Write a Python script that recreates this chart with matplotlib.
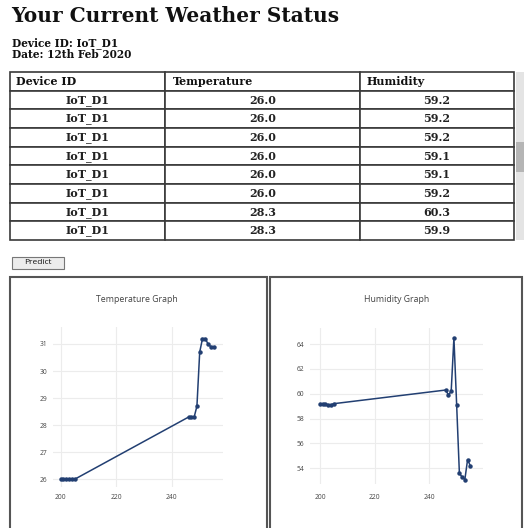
import matplotlib
matplotlib.use("Agg")
import matplotlib.pyplot as plt
from matplotlib.patches import Rectangle

# ---------------- data ----------------
page_title = "Your Current Weather Status"
device_line = "Device ID: IoT_D1"
date_line = "Date: 12th Feb 2020"

table_columns = ["Device ID", "Temperature", "Humidity"]
table_device = ["IoT_D1"] * 8
table_temperature = ["26.0", "26.0", "26.0", "26.0", "26.0", "26.0", "28.3", "28.3"]
table_humidity = ["59.2", "59.2", "59.2", "59.1", "59.1", "59.2", "60.3", "59.9"]

reading_index = [200, 201, 202, 203, 204, 205,
                 246, 247, 248, 249, 250, 251, 252, 253, 254, 255]
temperature = [26.0, 26.0, 26.0, 26.0, 26.0, 26.0,
               28.3, 28.3, 28.3, 28.7, 30.7, 31.2, 31.2, 31.0, 30.9, 30.9]
humidity = [59.2, 59.2, 59.2, 59.1, 59.1, 59.2,
            60.3, 59.9, 60.2, 64.5, 59.1, 53.6, 53.3, 53.1, 54.7, 54.2]

x_ticks = [200, 220, 240]
temp_ticks = [26, 27, 28, 29, 30, 31]
hum_ticks = [54, 56, 58, 60, 62, 64]

# ---------------- figure ----------------
W, H = 525, 528
fig = plt.figure(figsize=(W / 100, H / 100), dpi=100)
fig.patch.set_facecolor("white")


def fx(px):
    return px / W


def fy(py):
    return 1 - py / H


serif = "DejaVu Serif"
sans = "Open Sans"

fig.text(fx(11), fy(22), page_title, family=serif, weight="bold",
         fontsize=14.5, color="#111111", va="baseline", ha="left")
fig.text(fx(12), fy(46), device_line, family=serif, weight="bold",
         fontsize=7.6, color="#111111", va="baseline", ha="left")
fig.text(fx(12), fy(58), date_line, family=serif, weight="bold",
         fontsize=7.6, color="#111111", va="baseline", ha="left")

# ---------------- table ----------------
tab_left, tab_right, tab_top, tab_bottom = 10, 514, 72, 240
tax = fig.add_axes([fx(tab_left), fy(tab_bottom), fx(tab_right - tab_left),
                    (tab_bottom - tab_top) / H])
tax.axis("off")
cell_text = [list(r) for r in zip(table_device, table_temperature, table_humidity)]
col_w = [155, 195, 154]
tot = sum(col_w)
tbl = tax.table(cellText=cell_text, colLabels=table_columns,
                colWidths=[c / tot for c in col_w], cellLoc="center",
                bbox=[0, 0, 1, 1])
tbl.auto_set_font_size(False)
for (r, c), cell in tbl.get_celld().items():
    cell.set_edgecolor("#3a3a3a")
    cell.set_linewidth(1.2)
    cell.set_facecolor("white")
    cell.get_text().set_fontfamily(serif)
    cell.get_text().set_fontweight("bold")
    cell.get_text().set_fontsize(8.0)
    cell.get_text().set_color("#222222")
    if r == 0:
        cell.PAD = 0.04
        cell.get_text().set_horizontalalignment("left")
        cell.get_text().set_color("#111111")

# scrollbar
fig.patches.append(Rectangle((fx(516), fy(240)), fx(8), (240 - 72) / H,
                             transform=fig.transFigure, facecolor="#e4e4e4",
                             edgecolor="none"))
fig.patches.append(Rectangle((fx(516), fy(172)), fx(8), 30 / H,
                             transform=fig.transFigure, facecolor="#b5b5b5",
                             edgecolor="none"))

# predict button
fig.patches.append(Rectangle((fx(12), fy(269)), fx(52), 12 / H,
                             transform=fig.transFigure, facecolor="#ececec",
                             edgecolor="#777777", linewidth=0.8))
fig.text(fx(38), fy(263), "Predict", family=sans, fontsize=6,
         color="#111111", ha="center", va="center")

# panels
fig.patches.append(Rectangle((fx(10), fy(540)), fx(257), 263 / H,
                             transform=fig.transFigure, facecolor="none",
                             edgecolor="#555555", linewidth=1.5))
fig.patches.append(Rectangle((fx(270), fy(540)), fx(252), 263 / H,
                             transform=fig.transFigure, facecolor="none",
                             edgecolor="#555555", linewidth=1.5))

line_color = "#223f72"


def style_axes(ax):
    ax.set_facecolor("white")
    for s in ax.spines.values():
        s.set_visible(False)
    ax.grid(True, color="#ececec", linewidth=0.8)
    ax.set_axisbelow(True)
    ax.tick_params(length=0, labelsize=4.8, labelcolor="#444444")
    for lab in ax.get_xticklabels() + ax.get_yticklabels():
        lab.set_fontfamily(sans)


# temperature plot
ax1 = fig.add_axes([fx(53), fy(487), fx(170), 160 / H])
ax1.plot(reading_index, temperature, color=line_color, linewidth=1.1,
         marker="o", markersize=2.2)
ax1.set_xlim(197.23, 258.38)
ax1.set_ylim(25.715, 31.628)
ax1.set_xticks(x_ticks)
ax1.set_yticks(temp_ticks)
ax1.tick_params(axis="x", pad=5)
ax1.tick_params(axis="y", pad=4)
style_axes(ax1)
fig.text(fx(137), fy(299), "Temperature Graph", family=sans, fontsize=6.3,
         color="#444444", ha="center", va="center")

# humidity plot
ax2 = fig.add_axes([fx(310), fy(484), fx(173), 156 / H])
ax2.plot(reading_index, humidity, color=line_color, linewidth=1.1,
         marker="o", markersize=2.2)
ax2.set_xlim(196.34, 259.64)
ax2.set_ylim(52.74, 65.29)
ax2.set_xticks(x_ticks)
ax2.set_yticks(hum_ticks)
ax2.tick_params(axis="x", pad=7)
ax2.tick_params(axis="y", pad=4)
style_axes(ax2)
fig.text(fx(397), fy(299), "Humidity Graph", family=sans, fontsize=6.3,
         color="#444444", ha="center", va="center")

fig.savefig("out.png", dpi=100)
